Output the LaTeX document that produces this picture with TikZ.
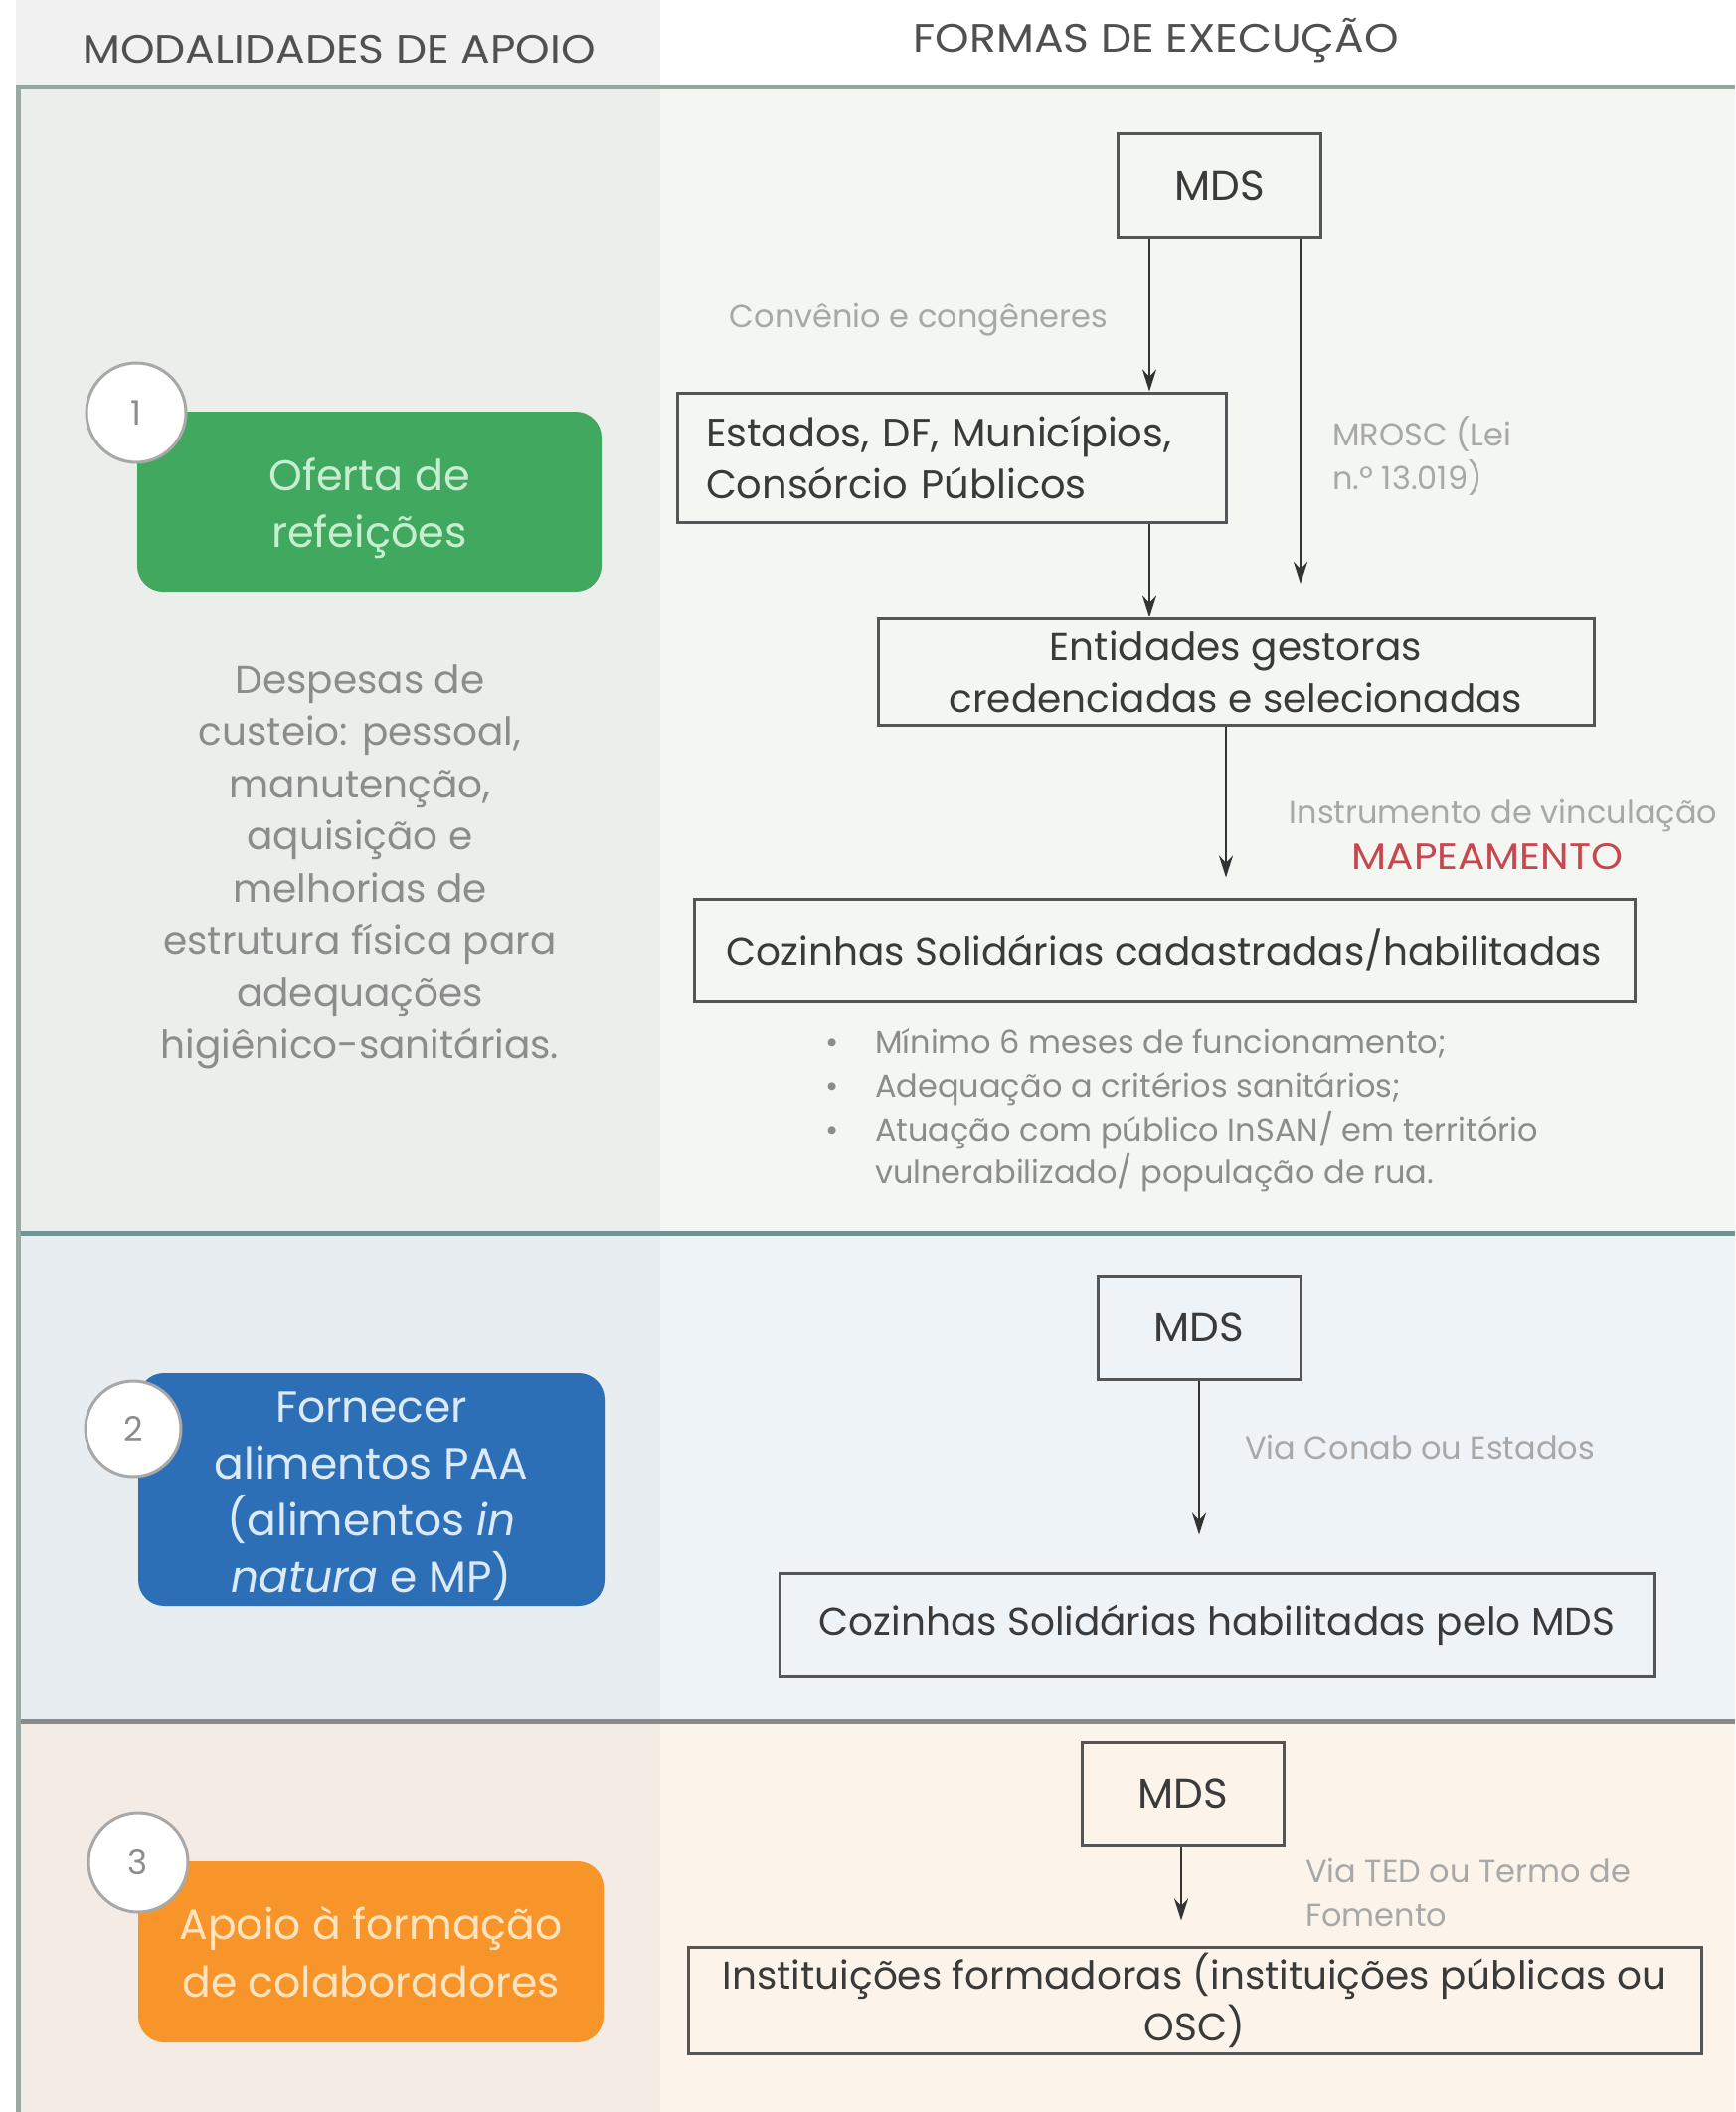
\documentclass[tikz,border=0pt]{standalone}
\usepackage{fontspec}
\setmainfont{Poppins}
\newfontfamily\widefont{Poppins}[FakeStretch=1.1]
\usetikzlibrary{arrows.meta}
\newcommand{\myfs}[2]{\fontsize{#1}{#2}\selectfont}
\definecolor{hdrleft}{HTML}{F1F1F1}
\definecolor{sAl}{HTML}{EBEEEA}
\definecolor{sAr}{HTML}{F3F6F1}
\definecolor{sBl}{HTML}{E8EDF1}
\definecolor{sBr}{HTML}{EEF3F7}
\definecolor{sCl}{HTML}{F4ECE4}
\definecolor{sCr}{HTML}{FCF4EB}
\definecolor{sepA}{HTML}{8FA8A0}
\definecolor{sepB}{HTML}{6F9494}
\definecolor{sepC}{HTML}{8A8A8A}
\definecolor{edge}{HTML}{9AAAA2}
\definecolor{boxline}{HTML}{555555}
\definecolor{boxtext}{HTML}{3A3A3A}
\definecolor{lbl}{HTML}{A8A8A8}
\definecolor{desc}{HTML}{8C8C8C}
\definecolor{mapred}{HTML}{C84650}
\definecolor{grn}{HTML}{41A85F}
\definecolor{grntxt}{HTML}{C8EED0}
\definecolor{blu}{HTML}{2C6FB7}
\definecolor{blutxt}{HTML}{DCE9F7}
\definecolor{org}{HTML}{F7952A}
\definecolor{orgtxt}{HTML}{FFE4C2}
\definecolor{hdr}{HTML}{505050}
\definecolor{arrc}{HTML}{333333}
\tikzset{
  fbox/.style={draw=boxline, line width=3pt, inner sep=0pt, align=center,
    text=boxtext, font=\myfs{39}{52}},
  mdsbox/.style={fbox, font=\myfs{42}{52}, minimum width=204pt, minimum height=104pt},
  arr/.style={draw=arrc, line width=2.2pt, -{Stealth[length=22pt,width=14pt]}},
  lbltext/.style={text=lbl, font=\myfs{32}{44}, inner sep=0pt},
  modbox/.style={rounded corners=26pt, inner sep=0pt, align=center},
  numcirc/.style={circle, draw=lbl, fill=white, line width=3pt, minimum size=100pt,
    inner sep=0pt, text=desc, font=\myfs{34}{40}},
  hdrtext/.style={text=hdr, font=\widefont\myfs{40}{44}, inner sep=0pt},
}
\begin{document}
\begin{tikzpicture}[x=1pt,y=-1pt]
\useasboundingbox (0,0) rectangle (1745,2124);
% backgrounds
\fill[white] (0,0) rectangle (1745,2124);
\fill[hdrleft] (16,0) rectangle (664,88);
\fill[sAr] (16,88) rectangle (1745,1240);
\fill[sAl] (16,88) rectangle (664,1240);
\fill[sBr] (16,1240) rectangle (1745,1731);
\fill[sBl] (16,1240) rectangle (664,1731);
\fill[sCr] (16,1731) rectangle (1745,2124);
\fill[sCl] (16,1731) rectangle (664,2124);
\draw[sepA, line width=5pt] (16,88) -- (1745,88);
\draw[sepB, line width=5pt] (16,1240) -- (1745,1240);
\draw[sepC, line width=5pt] (16,1731) -- (1745,1731);
\draw[edge, line width=5pt] (18,88) -- (18,2124);
% headers
\node[hdrtext] (h1) at (341,50) {MODALIDADES DE APOIO};
\node[hdrtext] (h2) at (1163,41) {FORMAS DE EXECUÇÃO};
% section 1 left
\node[modbox, fill=grn, minimum width=467pt, minimum height=181pt] (m1) at (371.5,504.5) {};
\node[text=grntxt, font=\myfs{43}{57}, align=center, inner sep=0pt] (m1t) at (371.5,511) {Oferta de\\refeições};
\node[numcirc] (c1) at (137,415) {1};
\node[text=desc, font=\myfs{39}{52.5}, align=center, inner sep=0pt] (d1) at (362,872)
  {Despesas de\\custeio: pessoal,\\manutenção,\\aquisição e\\melhorias de\\estrutura física para\\adequações\\higiênico-sanitárias.};
% section 1 right
\node[mdsbox] (mds1) at (1226.5,187) {MDS};
\node[fbox, font=\myfs{40}{52}, text width=494pt, inner xsep=29pt, align=left, minimum height=130pt] (est) at (957,460)
  {Estados, DF, Municípios,\\Consórcio Públicos};
\node[fbox, minimum width=720pt, minimum height=107pt] (ent) at (1243,675.5)
  {Entidades gestoras\\credenciadas e selecionadas};
\node[fbox, minimum width=946pt, minimum height=103pt] (coz1) at (1171,955.5)
  {Cozinhas Solidárias cadastradas/habilitadas};
\coordinate (mrosc) at (1308,587);
\draw[arr] ([xshift=-70.5pt]mds1.south) -- ([xshift=-70.5pt]mds1.south |- est.north);
\draw[arr] ([xshift=81.5pt]mds1.south) -- (mrosc);
\draw[arr] ([xshift=199pt]est.south) -- ([xshift=199pt]est.south |- ent.north);
\draw[arr, shorten >=20pt] ([xshift=-10pt]ent.south) -- ([xshift=-10pt]ent.south |- coz1.north);
\node[lbltext, anchor=east] (l1) at (1114,322) {Convênio e congêneres};
\node[lbltext, anchor=west, align=left] (l2) at (1340,459) {MROSC (Lei\\n.º 13.019)};
\node[lbltext] (l3) at (1512,820) {Instrumento de vinculação};
\node[text=mapred, font=\widefont\myfs{37}{40}, inner sep=0pt] (l4) at (1496,862) {MAPEAMENTO};
\node[text=desc, font=\myfs{32}{43.7}, align=left, inner sep=0pt, anchor=west] (bl) at (830,1117)
  {\makebox[50pt][l]{•}Mínimo 6 meses de funcionamento;\\
   \makebox[50pt][l]{•}Adequação a critérios sanitários;\\
   \makebox[50pt][l]{•}Atuação com público InSAN/ em território\\
   \hspace*{50pt}vulnerabilizado/ população de rua.};
% section 2
\node[modbox, fill=blu, minimum width=469pt, minimum height=234pt] (m2) at (373.5,1498) {};
\node[text=blutxt, font=\myfs{44}{57}, align=center, inner sep=0pt] (m2t) at (373.5,1505)
  {Fornecer\\alimentos PAA\\(alimentos \textit{in}\\\textit{natura} e MP)};
\node[numcirc, minimum size=96pt] (c2) at (134,1437) {2};
\node[mdsbox] (mds2) at (1206,1335) {MDS};
\node[fbox, minimum width=880pt, minimum height=104pt] (coz2) at (1224,1634)
  {Cozinhas Solidárias habilitadas pelo MDS};
\draw[arr, shorten >=37pt] (mds2.south) -- (mds2.south |- coz2.north);
\node[lbltext, anchor=west] (l5) at (1252,1455) {Via Conab ou Estados};
% section 3
\node[modbox, fill=org, text=orgtxt, font=\myfs{42.5}{58}, minimum width=468pt, minimum height=182pt] (m3) at (373,1963)
  {Apoio à formação\\de colaboradores};
\node[numcirc] (c3) at (139,1873) {3};
\node[mdsbox, minimum width=203pt, minimum height=103pt] (mds3) at (1189.5,1803.5) {MDS};
\node[fbox, minimum width=1019pt, minimum height=107pt] (inst) at (1201.5,2011.5)
  {Instituições formadoras (instituições públicas ou\\OSC)};
\draw[arr, shorten >=25pt] ([xshift=-1.5pt]mds3.south) -- ([xshift=-1.5pt]mds3.south |- inst.north);
\node[lbltext, anchor=west, align=left] (l6) at (1313,1903.5) {Via TED ou Termo de\\Fomento};
\end{tikzpicture}
\end{document}
